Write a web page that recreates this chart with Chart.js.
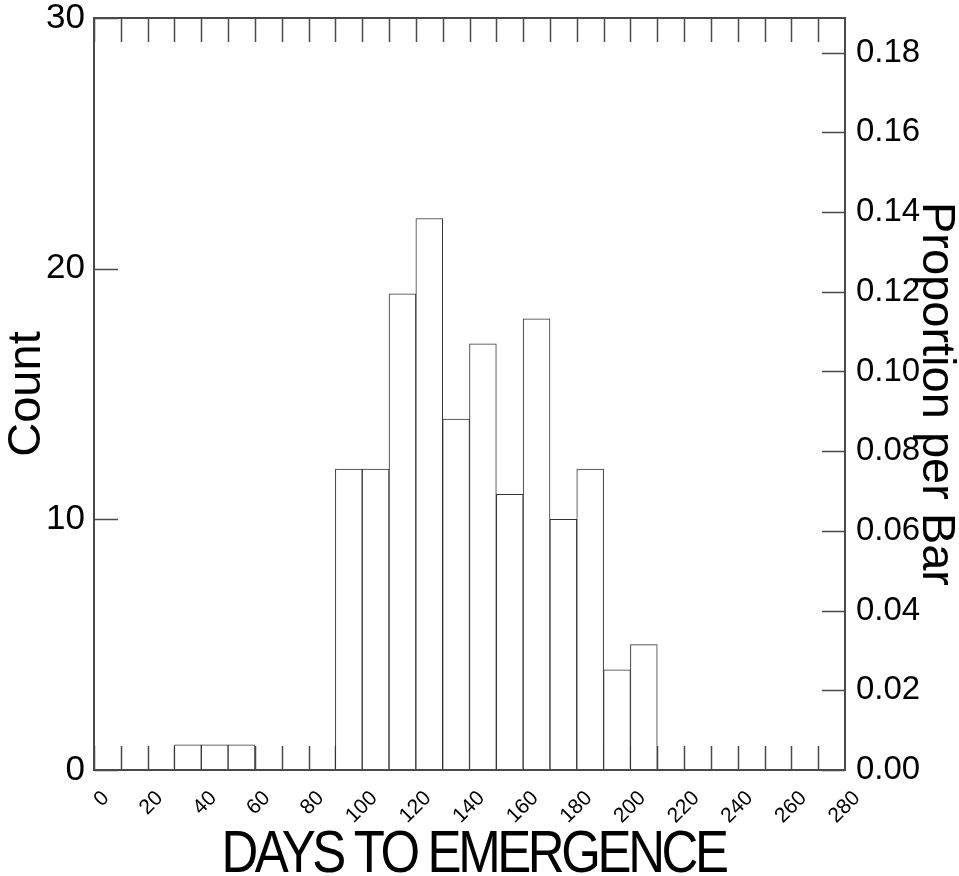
<!DOCTYPE html>
<html>
<head>
<meta charset="utf-8">
<script src="https://cdn.jsdelivr.net/npm/chart.js@4/dist/chart.umd.min.js"></script>
<style>
  body { margin: 0; background: #fff; }
  #wrap { width: 959px; height: 876px; }
</style>
</head>
<body>
<div id="wrap"><canvas id="grafico" width="959" height="876"></canvas></div>
<script>
// === DADOS DO HISTOGRAMA (classes de 10 dias) ===
const binStarts = [0, 10, 20, 30, 40, 50, 60, 70, 80, 90, 100, 110, 120, 130, 140, 150, 160, 170, 180, 190, 200, 210, 220, 230, 240, 250, 260, 270];
const counts    = [0, 0, 0, 1, 1, 1, 0, 0, 0, 12, 12, 19, 22, 14, 17, 11, 18, 10, 12, 4, 5, 0, 0, 0, 0, 0, 0, 0];
const binWidth = 10;

// === RÓTULOS DOS EIXOS ===
const xTickLabels = [0, 20, 40, 60, 80, 100, 120, 140, 160, 180, 200, 220, 240, 260, 280];
const countTicks = [0, 10, 20, 30];
const proportionTicks = [0, 0.02, 0.04, 0.06, 0.08, 0.10, 0.12, 0.14, 0.16, 0.18];
const xTitle = "DAYS TO EMERGENCE";

const total = counts.reduce((a, b) => a + b, 0);
const countMax = 30;
const lineColor = '#4a4a4a';
const fontFamily = "'Liberation Sans', Arial, sans-serif";

// barras (só classes com contagem > 0)
const pontos = [];
binStarts.forEach((b, i) => {
  if (counts[i] > 0) pontos.push({ x: b + binWidth / 2, y: counts[i] });
});

// === MOLDURA + MARCAS INTERNAS ===
const molduraPlugin = {
  id: 'moldura',
  beforeDatasetsDraw(chart) {
    const { ctx, chartArea: a, scales } = chart;
    ctx.save();
    ctx.strokeStyle = lineColor;
    ctx.lineWidth = 1.5;
    ctx.beginPath();
    binStarts.forEach(v => {
      const px = Math.round(scales.x.getPixelForValue(v)) + 0.5;
      ctx.moveTo(px, a.top); ctx.lineTo(px, a.top + 24);
      ctx.moveTo(px, a.bottom); ctx.lineTo(px, a.bottom - 24);
    });
    countTicks.forEach(v => {
      const py = Math.round(scales.y.getPixelForValue(v)) + 0.5;
      ctx.moveTo(a.left, py); ctx.lineTo(a.left + 24, py);
    });
    proportionTicks.forEach(v => {
      const py = Math.round(scales.y2.getPixelForValue(v)) + 0.5;
      ctx.moveTo(a.right, py); ctx.lineTo(a.right - 23, py);
    });
    ctx.stroke();
    ctx.restore();
  },
  afterDatasetsDraw(chart) {
    const { ctx, chartArea: a } = chart;
    ctx.save();
    ctx.strokeStyle = lineColor;
    ctx.lineWidth = 2;
    ctx.strokeRect(a.left, a.top, a.right - a.left, a.bottom - a.top);
    ctx.restore();
  },
  afterDraw(chart) {
    // título do eixo X (fonte mais estreita, como no original)
    const { ctx, chartArea: a } = chart;
    const sx = 0.85;
    ctx.save();
    ctx.font = "60px " + fontFamily;
    ctx.fillStyle = '#000';
    if ('letterSpacing' in ctx) ctx.letterSpacing = '-4px';
    ctx.textAlign = 'center';
    ctx.textBaseline = 'alphabetic';
    ctx.translate((a.left + a.right) / 2 + 4, 872);
    ctx.scale(sx, 1);
    ctx.fillText(xTitle, 0, 0);
    ctx.restore();
  }
};

new Chart(document.getElementById('grafico'), {
  type: 'bar',
  data: {
    datasets: [{
      label: 'Count',
      data: pontos,
      backgroundColor: '#ffffff',
      borderColor: '#333333',
      borderWidth: 1,
      barPercentage: 1,
      categoryPercentage: 1,
      yAxisID: 'y'
    }]
  },
  options: {
    responsive: false,
    animation: false,
    layout: { padding: { top: 18, left: 0, right: 0, bottom: 0 } },
    plugins: { legend: { display: false }, tooltip: { enabled: false } },
    scales: {
      x: {
        type: 'linear',
        offset: false,
        min: 0, max: 280,
        grid: { display: false, drawTicks: false, offset: false },
        border: { display: false },
        afterBuildTicks: s => { s.ticks = xTickLabels.map(v => ({ value: v })); },
        afterFit: s => { s.height = 106; s.paddingLeft = 0; s.paddingRight = 0; },
        ticks: {
          autoSkip: false, minRotation: 45, maxRotation: 45,
          padding: 16, labelOffset: 12,
          color: '#000', font: { family: fontFamily, size: 21 }
        }
      },
      y: {
        position: 'left',
        min: 0, max: countMax,
        grid: { display: false, drawTicks: false },
        border: { display: false },
        afterBuildTicks: s => { s.ticks = countTicks.map(v => ({ value: v })); },
        afterFit: s => { s.width = 94; s.paddingTop = 0; s.paddingBottom = 0; },
        ticks: { padding: 9, color: '#000', font: { family: fontFamily, size: 35 } },
        title: {
          display: true, text: 'Count', color: '#000',
          font: { family: fontFamily, size: 47, lineHeight: 1 },
          padding: { top: 4, bottom: 0 }
        }
      },
      y2: {
        position: 'right',
        min: 0, max: countMax / total,
        grid: { display: false, drawTicks: false },
        border: { display: false },
        afterBuildTicks: s => { s.ticks = proportionTicks.map(v => ({ value: v })); },
        afterFit: s => { s.width = 114; s.paddingTop = 0; s.paddingBottom = 0; },
        ticks: {
          padding: 11, color: '#000', font: { family: fontFamily, size: 33 },
          callback: v => v.toFixed(2)
        },
        title: {
          display: true, text: 'Proportion per Bar', color: '#000',
          font: { family: fontFamily, size: 47, lineHeight: 1 },
          padding: { top: 0, bottom: 0 }
        }
      }
    }
  },
  plugins: [molduraPlugin]
});
</script>
</body>
</html>
